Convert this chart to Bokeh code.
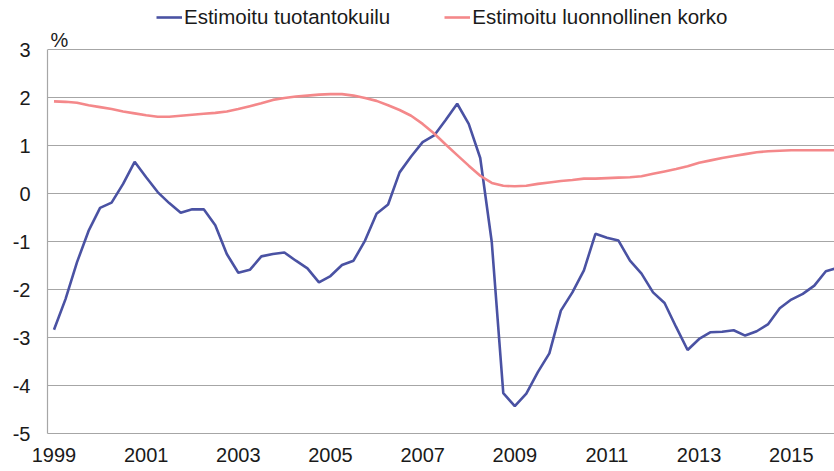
from bokeh.plotting import figure
from bokeh.models import Legend, LegendItem, FixedTicker, Range1d, Label
from bokeh.embed import file_html
from bokeh.resources import INLINE

# Quarterly observations 1999Q1 .. 2016Q1
quarters = [f"{y}Q{q}" for y in range(1999, 2017) for q in range(1, 5)][:69]

output_gap = [
    -2.84, -2.20, -1.43, -0.78, -0.30, -0.19, 0.20, 0.66,
    0.34, 0.03, -0.20, -0.40, -0.33, -0.33, -0.66, -1.26,
    -1.65, -1.59, -1.31, -1.26, -1.23, -1.40, -1.56, -1.85,
    -1.72, -1.49, -1.40, -0.98, -0.42, -0.23, 0.44, 0.77,
    1.07, 1.21, 1.53, 1.87, 1.45, 0.74, -1.01, -4.16,
    -4.43, -4.17, -3.72, -3.33, -2.44, -2.06, -1.60, -0.84,
    -0.92, -0.98, -1.40, -1.67, -2.06, -2.28, -2.78, -3.26,
    -3.03, -2.89, -2.88, -2.85, -2.96, -2.87, -2.72, -2.39,
    -2.21, -2.09, -1.92, -1.62, -1.55,
]

natural_rate = [
    1.92, 1.91, 1.89, 1.84, 1.80, 1.76, 1.71, 1.67,
    1.63, 1.60, 1.60, 1.62, 1.64, 1.66, 1.68, 1.71,
    1.76, 1.82, 1.88, 1.95, 1.99, 2.02, 2.04, 2.06,
    2.07, 2.07, 2.04, 1.99, 1.93, 1.84, 1.74, 1.62,
    1.45, 1.25, 1.02, 0.80, 0.58, 0.37, 0.22, 0.16,
    0.15, 0.16, 0.20, 0.23, 0.26, 0.28, 0.31, 0.31,
    0.32, 0.33, 0.34, 0.36, 0.41, 0.46, 0.51, 0.57,
    0.64, 0.69, 0.74, 0.78, 0.82, 0.86, 0.88, 0.89,
    0.90, 0.90, 0.90, 0.90, 0.90,
]

year_ticks = [1999, 2001, 2003, 2005, 2007, 2009, 2011, 2013, 2015]
y_ticks = [-5, -4, -3, -2, -1, 0, 1, 2, 3]

series_names = ["Estimoitu tuotantokuilu", "Estimoitu luonnollinen korko"]
unit_label = "%"

x = [int(q[:4]) + (int(q[-1]) - 1) / 4 for q in quarters]

FONT = "Liberation Sans"
TXT = "#1a1a1a"
GRID = "#a6a6a6"
BLUE = "#4a52a3"
PINK = "#f4888a"

# frame reaches the top of the canvas so the legend and unit label sit inside it
p = figure(width=834, height=471, output_backend="svg", toolbar_location=None,
           x_range=Range1d(1998.859, 2015.938), y_range=Range1d(-5, 4.021),
           min_border_left=47, min_border_right=0, min_border_top=0,
           min_border_bottom=38)
p.outline_line_color = None
p.background_fill_color = "white"
p.border_fill_color = "white"

r_gap = p.line(x, output_gap, line_color=BLUE, line_width=2.6)
r_nat = p.line(x, natural_rate, line_color=PINK, line_width=2.6)

p.xaxis.ticker = FixedTicker(ticks=year_ticks)
p.xaxis.major_label_overrides = {t: str(t) for t in year_ticks}
p.yaxis.ticker = FixedTicker(ticks=y_ticks)
p.yaxis.major_label_overrides = {t: str(t) for t in y_ticks}
p.yaxis.bounds = (-5, 3)

for ax in (p.xaxis[0], p.yaxis[0]):
    ax.major_tick_out = 0
    ax.major_tick_in = 0
    ax.minor_tick_out = 0
    ax.minor_tick_in = 0
    ax.axis_line_color = GRID
    ax.axis_line_width = 1.2
    ax.major_label_text_font = FONT
    ax.major_label_text_font_size = "20px"
    ax.major_label_text_color = TXT
p.xaxis.major_label_standoff = 14
p.yaxis.major_label_standoff = 17

p.xgrid.grid_line_color = None
p.ygrid.grid_line_color = GRID
p.ygrid.grid_line_width = 1.2

pct = Label(x=1998.924, y=3.20, text=unit_label, text_font=FONT,
            text_font_size="20px", text_color=TXT, text_baseline="alphabetic")
p.add_layout(pct)

legend = Legend(items=[LegendItem(label=series_names[0], renderers=[r_gap]),
                       LegendItem(label=series_names[1], renderers=[r_nat])],
                orientation="horizontal", location=(109, 404),
                border_line_color=None, background_fill_alpha=0,
                padding=0, margin=0, spacing=54, glyph_width=26,
                glyph_height=20, label_standoff=2, label_height=20,
                label_text_font=FONT, label_text_font_size="20.5px",
                label_text_color=TXT)
p.add_layout(legend, "center")

open("out.html", "w").write(file_html(p, INLINE))
